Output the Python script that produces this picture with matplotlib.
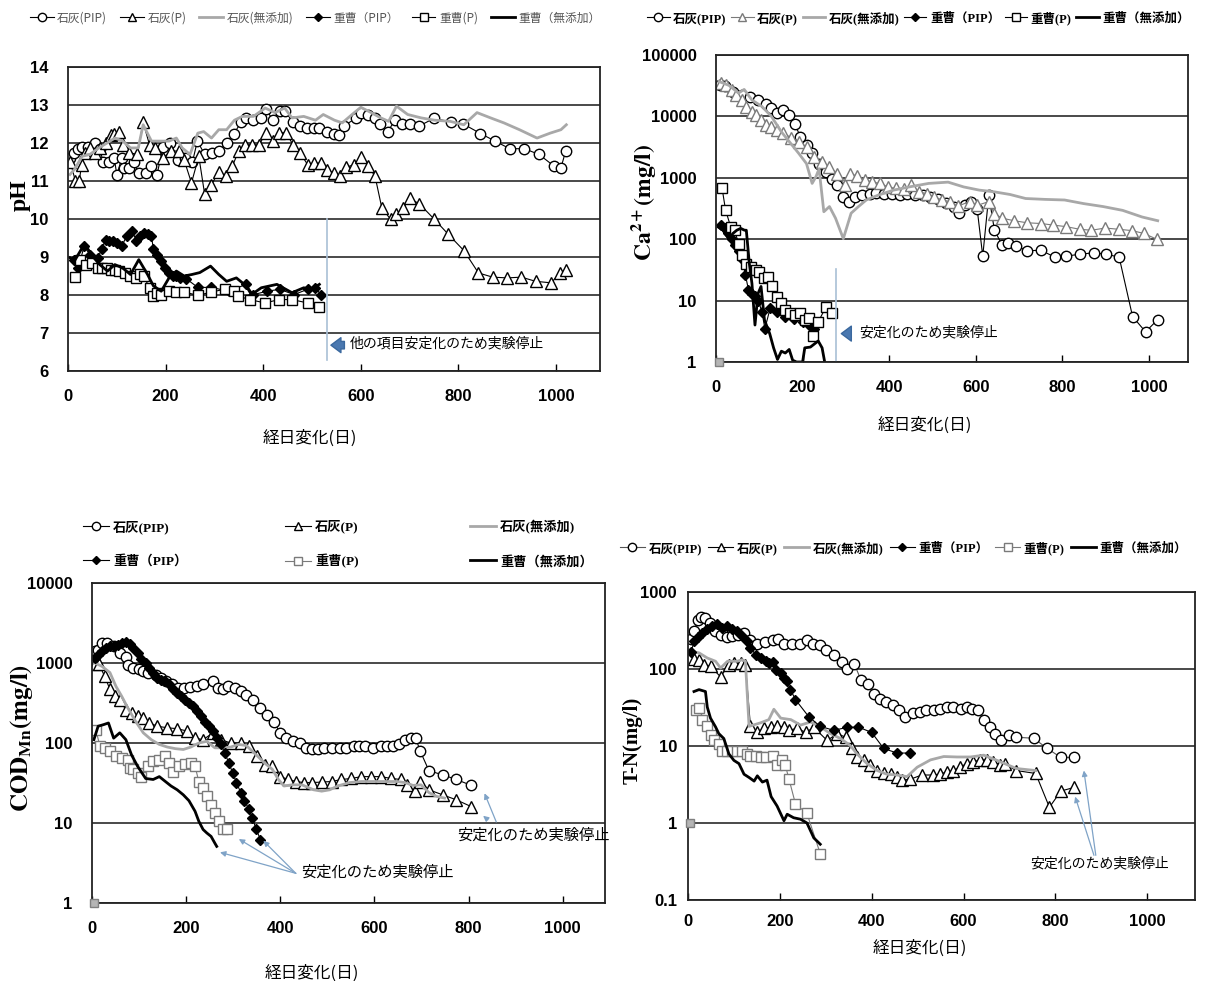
import matplotlib
matplotlib.use('Agg')
import matplotlib.pyplot as plt
from matplotlib.lines import Line2D
from matplotlib.ticker import NullLocator

plt.rcParams['mathtext.fontset'] = 'stix'

JP = ['Noto Sans CJK JP', 'DejaVu Sans']
SERIF_JP = ['Liberation Serif', 'Noto Sans CJK JP']

labels = ['石灰(PIP)', '石灰(P)', '石灰(無添加)', '重曹（PIP）', '重曹(P)', '重曹（無添加）']
x_ticks = [0, 200, 400, 600, 800, 1000]
stop_text = '安定化のため実験停止'

# ---------------- pH ----------------
ph_ticks = [6, 7, 8, 9, 10, 11, 12, 13, 14]
ph_lime_pip_day = [5, 12, 20, 28, 40, 55, 65, 72, 85, 95, 100, 110, 115, 125, 135, 145, 160, 170, 182, 195,
                   210, 225, 240, 255, 265, 280, 295, 310, 325, 340, 355, 365, 380, 395, 405, 420, 435, 445,
                   460, 475, 490, 505, 515, 530, 545, 555, 565, 590, 600, 615, 630, 640, 655, 670, 685, 700,
                   720, 750, 785, 810, 845, 875, 905, 935, 965, 995, 1010, 1020]
ph_lime_pip_val = [11.6, 11.75, 11.85, 11.9, 11.9, 12.0, 11.85, 11.5, 11.5, 11.6, 11.15, 11.6, 11.35, 11.35,
                   11.5, 11.2, 11.2, 11.4, 11.15, 11.9, 12.0, 11.55, 11.6, 11.5, 12.05, 11.7, 11.75, 11.8,
                   12.0, 12.25, 12.55, 12.65, 12.6, 12.65, 12.9, 12.6, 12.85, 12.85, 12.55, 12.45, 12.4,
                   12.4, 12.4, 12.3, 12.25, 12.2, 12.45, 12.65, 12.8, 12.75, 12.65, 12.5, 12.3, 12.6, 12.5,
                   12.5, 12.45, 12.65, 12.55, 12.5, 12.25, 12.05, 11.85, 11.85, 11.7, 11.4, 11.35, 11.8]
ph_lime_p_day = [5, 15, 23, 28, 35, 45, 55, 65, 77, 88, 95, 104, 112, 124, 142, 154, 167, 179, 195, 211, 227,
                 238, 253, 268, 280, 294, 309, 323, 337, 350, 363, 376, 392, 405, 420, 433, 447, 461, 475,
                 491, 505, 518, 531, 545, 558, 570, 586, 601, 615, 629, 643, 661, 672, 687, 700, 720, 750,
                 779, 811, 841, 870, 900, 929, 958, 990, 1008, 1020]
ph_lime_p_val = [11.5, 11.0, 11.0, 11.43, 11.75, 11.87, 11.75, 11.87, 12.0, 12.2, 12.25, 12.3, 11.95, 11.75,
                 11.7, 12.55, 11.95, 11.87, 11.6, 11.8, 11.78, 11.55, 10.95, 11.65, 10.65, 10.9, 11.25,
                 11.13, 11.4, 11.8, 11.95, 11.95, 11.95, 12.27, 12.05, 12.27, 12.27, 11.95, 11.75, 11.43,
                 11.47, 11.47, 11.3, 11.2, 11.13, 11.36, 11.43, 11.62, 11.39, 11.13, 10.29, 9.99, 10.12,
                 10.29, 10.54, 10.4, 10.0, 9.6, 9.17, 8.58, 8.47, 8.45, 8.47, 8.36, 8.32, 8.58, 8.67]
ph_lime_none_day = [4, 13, 29, 45, 63, 80, 96, 112, 128, 144, 154, 171, 191, 207, 222, 234, 250, 266, 278,
                    294, 309, 325, 341, 357, 380, 404, 424, 444, 459, 483, 507, 523, 546, 562, 582, 600,
                    621, 641, 657, 673, 696, 724, 751, 783, 811, 838, 866, 893, 925, 961, 988, 1010, 1021]
ph_lime_none_val = [11.17, 11.3, 11.65, 11.7, 11.87, 12.0, 12.13, 12.05, 11.87, 11.87, 12.48, 12.05, 12.05,
                    12.05, 12.13, 11.87, 11.7, 12.26, 12.3, 12.13, 12.35, 12.35, 12.6, 12.7, 12.7, 12.92,
                    12.8, 12.92, 12.66, 12.7, 12.6, 12.75, 12.6, 12.53, 12.75, 12.94, 12.8, 12.66, 12.57,
                    12.97, 12.75, 12.66, 12.6, 12.57, 12.48, 12.8, 12.66, 12.53, 12.35, 12.13, 12.26,
                    12.35, 12.48]
ph_soda_pip_day = [13, 21, 33, 45, 61, 69, 77, 85, 92, 100, 110, 120, 132, 140, 148, 155, 163, 171, 175,
                   183, 191, 199, 207, 215, 222, 230, 242, 266, 294, 329, 365, 380, 408, 434, 463, 491,
                   507, 518]
ph_soda_pip_val = [8.93, 8.71, 9.28, 9.06, 8.98, 9.2, 9.46, 9.42, 9.43, 9.37, 9.28, 9.55, 9.68, 9.42, 9.55,
                   9.64, 9.6, 9.55, 9.2, 9.06, 8.89, 8.71, 8.58, 8.51, 8.49, 8.45, 8.43, 8.2, 8.2, 8.1,
                   8.28, 8.01, 8.1, 8.15, 8.01, 8.15, 8.19, 8.01]
ph_soda_p_day = [15, 25, 37, 49, 61, 69, 79, 88, 96, 104, 116, 128, 140, 148, 155, 167, 175, 183, 191, 207,
                 222, 238, 266, 294, 321, 341, 349, 372, 404, 432, 459, 491, 515]
ph_soda_p_val = [8.47, 8.93, 8.8, 8.85, 8.71, 8.71, 8.71, 8.67, 8.67, 8.63, 8.58, 8.5, 8.45, 8.54, 8.5,
                 8.19, 7.97, 8.06, 7.99, 8.1, 8.08, 8.08, 7.99, 8.08, 8.15, 8.1, 7.97, 7.88, 7.79, 7.88,
                 7.88, 7.79, 7.68]
ph_soda_none_day = [4, 13, 29, 37, 53, 65, 81, 96, 112, 128, 145, 163, 175, 191, 207, 222, 238, 254, 270,
                    292, 309, 325, 345, 365, 376, 396, 428, 459, 483, 499, 515]
ph_soda_none_val = [8.98, 8.89, 9.24, 9.28, 8.98, 8.8, 8.63, 8.8, 8.71, 8.54, 8.93, 8.54, 8.24, 8.1, 8.45,
                    8.63, 8.5, 8.54, 8.59, 8.76, 8.54, 8.36, 8.45, 8.24, 8.01, 8.19, 8.28, 8.06, 8.19,
                    8.15, 8.28]

# ---------------- Ca2+ ----------------
ca_ticks = [1, 10, 100, 1000, 10000, 100000]
ca_lime_pip_day = [9, 21, 39, 61, 79, 97, 115, 128, 142, 155, 169, 182, 195, 209, 222, 238, 254, 267, 280,
                   294, 307, 320, 338, 356, 370, 388, 406, 424, 441, 460, 478, 495, 513, 531, 549, 561,
                   576, 590, 603, 616, 630, 643, 661, 675, 693, 719, 751, 782, 809, 840, 872, 901, 931,
                   962, 992, 1020]
ca_lime_pip_val = [32000, 31000, 25000, 22000, 21000, 18500, 16000, 13500, 11200, 12600, 10400, 7400, 4700,
                   3400, 2500, 1700, 1250, 950, 760, 490, 410, 490, 520, 550, 570, 550, 535, 520, 540, 520,
                   520, 490, 460, 390, 340, 270, 355, 400, 315, 53, 520, 140, 80, 87, 77, 65, 66, 51, 53,
                   57, 60, 57, 51, 5.5, 3.1, 4.9]
ca_lime_p_day = [12, 23, 37, 47, 59, 70, 82, 92, 104, 116, 128, 142, 155, 173, 191, 209, 227, 245, 262, 280,
                 298, 310, 325, 343, 361, 379, 397, 415, 433, 451, 469, 487, 504, 522, 540, 558, 586, 603,
                 630, 643, 661, 688, 719, 751, 778, 809, 840, 867, 899, 930, 961, 988, 1018]
ca_lime_p_val = [35000, 32000, 27000, 22000, 18500, 14400, 12000, 10400, 8700, 7200, 6600, 6000, 5400, 4500,
                 3900, 3200, 2200, 1800, 1500, 1170, 760, 1170, 1070, 920, 850, 810, 710, 670, 650, 760,
                 590, 550, 490, 435, 410, 345, 410, 355, 410, 260, 220, 200, 185, 180, 170, 160, 145, 140,
                 152, 145, 138, 124, 100]
ca_lime_none_day = [7, 30, 52, 65, 83, 106, 128, 151, 173, 191, 209, 222, 231, 238, 249, 262, 276, 294, 312,
                    329, 347, 374, 410, 446, 491, 536, 572, 608, 643, 679, 715, 760, 805, 849, 894, 939,
                    984, 1020]
ca_lime_none_val = [37000, 32000, 24000, 27500, 18500, 14500, 10000, 5600, 3600, 2500, 1700, 810, 1050, 1400,
                    280, 340, 220, 102, 265, 340, 435, 520, 630, 710, 810, 850, 710, 630, 590, 535, 460,
                    445, 435, 380, 340, 295, 230, 200]
ca_soda_pip_day = [12, 20, 28, 36, 44, 52, 60, 68, 75, 82, 90, 98, 106, 113, 125, 140, 160, 180, 200, 215,
                   227]
ca_soda_pip_val = [170, 150, 125, 100, 80, 65, 48, 26, 15, 13, 12, 10, 6.5, 3.5, 7.5, 6.5, 5.5, 5.0, 4.5,
                   4.0, 3.5]
ca_soda_p_day = [14, 22, 34, 43, 52, 61, 70, 81, 92, 99, 111, 121, 130, 140, 150, 160, 170, 182, 195, 205,
                 215, 224, 236, 254, 267]
ca_soda_p_val = [680, 300, 158, 140, 85, 55, 40, 35, 31, 29, 23, 24, 17, 11.5, 9, 7, 6.2, 5.8, 6.2, 4.8,
                 5.2, 2.7, 4.5, 7.9, 6.2]
ca_soda_none_day = [5, 16, 30, 39, 48, 57, 66, 70, 77, 83, 90, 97, 104, 112, 124, 133, 142, 151, 160, 169,
                    177, 186, 200, 205, 218, 236, 245, 251]
ca_soda_none_val = [158, 140, 100, 124, 140, 150, 140, 140, 40, 19, 4, 13, 17, 4.8, 2.9, 1.7, 1.1, 1.5, 1.4,
                    1.6, 1.07, 1.0, 1.0, 1.7, 1.75, 2.2, 1.7, 1.0]

# ---------------- COD ----------------
cod_ticks = [1, 10, 100, 1000, 10000]
cod_lime_pip_day = [6, 13, 21, 32, 46, 59, 72, 76, 88, 99, 109, 120, 135, 147, 158, 170, 183, 195, 208, 223,
                    236, 257, 268, 278, 290, 303, 316, 328, 343, 358, 372, 386, 400, 412, 427, 442, 455,
                    467, 480, 492, 509, 526, 539, 556, 568, 581, 598, 614, 627, 640, 652, 665, 678, 688,
                    697, 716, 745, 774, 806]
cod_lime_pip_val = [1400, 1470, 1780, 1780, 1620, 1330, 1200, 950, 870, 830, 800, 750, 710, 650, 590, 540,
                    490, 490, 500, 515, 550, 590, 490, 470, 510, 490, 445, 400, 340, 275, 225, 185, 134,
                    115, 107, 100, 87, 83, 85, 87, 87, 87, 87, 91, 93, 91, 87, 93, 93, 93, 96, 110, 115,
                    115, 80, 45, 40, 35, 29.5]
cod_lime_p_day = [6, 15, 27, 38, 49, 59, 72, 84, 97, 109, 122, 139, 160, 181, 202, 219, 236, 257, 274, 295,
                  316, 333, 350, 367, 383, 400, 417, 434, 450, 467, 488, 509, 530, 551, 572, 593, 614,
                  636, 657, 669, 686, 697, 716, 745, 774, 806]
cod_lime_p_val = [960, 960, 680, 470, 385, 345, 260, 235, 215, 205, 178, 162, 155, 151, 141, 115, 110, 134,
                  110, 100, 100, 91, 68, 53, 51, 38, 35, 33, 32, 32, 32.5, 33, 35, 36, 38, 38, 38, 36, 35,
                  30, 25, 33, 26, 22.5, 19.5, 16]
cod_lime_none_day = [6, 21, 38, 51, 63, 76, 93, 109, 126, 143, 160, 177, 194, 210, 227, 244, 261, 278, 295,
                     311, 328, 349, 367, 383, 396, 408, 425, 446, 471, 488, 505, 522, 547, 572, 598, 623,
                     648, 665, 682, 699, 716, 732, 749]
cod_lime_none_val = [1000, 910, 760, 510, 385, 275, 185, 134, 110, 96, 89, 85, 83, 89, 100, 105, 87, 87, 89,
                     96, 93, 71, 56, 47, 35, 29, 30, 30, 26, 25, 26, 29, 32, 33, 33, 33, 33, 32, 29.5, 30,
                     24, 21.5, 20.5]
cod_soda_pip_day = [6, 13, 21, 29, 38, 46, 55, 63, 72, 80, 88, 97, 105, 114, 122, 130, 139, 147, 156, 164,
                    173, 181, 189, 198, 206, 215, 223, 231, 240, 248, 257, 265, 274, 282, 291, 299, 307,
                    316, 324, 333, 341, 349, 358]
cod_soda_pip_val = [1150, 1260, 1400, 1550, 1620, 1620, 1700, 1780, 1820, 1740, 1550, 1340, 1130, 1000,
                    870, 750, 650, 620, 590, 540, 470, 425, 385, 345, 315, 290, 250, 215, 185, 162, 141,
                    115, 96, 75, 56, 42, 32, 24, 19, 15, 11.5, 8.3, 6.2]
cod_soda_p_day = [8, 17, 27, 38, 51, 63, 76, 80, 88, 97, 105, 118, 130, 143, 156, 164, 173, 185, 198, 210,
                  219, 227, 236, 244, 253, 261, 269, 278, 286]
cod_soda_p_val = [147, 91, 87, 80, 68, 65, 62, 49, 47, 42, 38, 51, 59, 62, 68, 56, 44, 51, 54, 56, 51, 33,
                  27.5, 21.5, 17, 13.4, 10.5, 8.3, 8.3]
cod_soda_none_day = [4, 13, 25, 35, 46, 59, 72, 84, 97, 114, 130, 143, 156, 168, 181, 194, 206, 219, 227,
                     236, 244, 253, 261, 265]
cod_soda_none_val = [110, 162, 170, 178, 115, 134, 110, 71, 51, 36, 35, 38, 33, 29, 26, 22.5, 19, 14, 10.5,
                     8.3, 7.5, 6.8, 5.6, 5.1]

# ---------------- T-N ----------------
tn_ticks = [0.1, 1, 10, 100, 1000]
tn_lime_pip_day = [6, 13, 21, 29, 38, 48, 59, 71, 84, 96, 109, 121, 134, 150, 167, 184, 197, 209, 226, 243,
                   259, 272, 287, 301, 318, 335, 347, 362, 377, 391, 404, 418, 431, 446, 460, 473, 490,
                   505, 519, 536, 548, 565, 577, 594, 607, 619, 632, 644, 657, 669, 682, 699, 715, 753,
                   782, 812, 841]
tn_lime_pip_val = [245, 315, 430, 475, 465, 390, 315, 273, 262, 265, 273, 290, 235, 213, 224, 235, 245, 213,
                   213, 213, 235, 213, 204, 174, 151, 123, 100, 117, 71, 64, 48, 41, 37, 34, 29, 24, 26.5,
                   28, 29, 29.5, 30, 32, 32, 30, 32, 30, 29, 21.5, 17.7, 14.5, 12, 14, 13, 12.6, 9.3, 7.1,
                   7.1]
tn_lime_p_day = [12, 24, 35, 49, 71, 89, 100, 115, 125, 136, 151, 165, 180, 194, 209, 220, 238, 256, 274,
                 303, 325, 343, 357, 368, 383, 397, 412, 426, 441, 455, 466, 484, 509, 534, 549, 563, 578,
                 592, 607, 621, 636, 650, 665, 679, 690, 715, 757, 787, 812, 841]
tn_lime_p_val = [135, 129, 114, 108, 79, 114, 120, 120, 114, 18, 15, 17, 17.4, 18, 17.7, 16, 17, 15, 17.4,
                 11.8, 14.5, 13, 9.3, 7.3, 6.5, 5.6, 4.7, 4.4, 4.3, 3.9, 3.6, 3.7, 4.2, 4.2, 4.3, 4.6,
                 4.8, 5.3, 5.9, 6.2, 6.6, 6.6, 6.2, 5.7, 5.8, 4.8, 4.4, 1.6, 2.6, 2.9]
tn_lime_none_day = [6, 24, 42, 60, 71, 86, 107, 118, 125, 133, 158, 176, 187, 202, 224, 245, 267, 288, 310,
                    332, 353, 368, 390, 412, 433, 455, 477, 499, 528, 557, 586, 615, 644, 673, 715, 757]
tn_lime_none_val = [170, 162, 139, 126, 103, 126, 126, 132, 126, 18, 20, 22, 30, 23, 22, 18.7, 20.5, 17.8,
                    14.5, 12.5, 10.2, 7.9, 5.9, 4.8, 4.3, 4.2, 4.0, 5.3, 6.6, 7.3, 7.2, 7.2, 7.6, 6.5,
                    5.1, 4.8]
tn_soda_pip_day = [6, 14, 22, 31, 42, 53, 64, 75, 86, 96, 107, 118, 129, 136, 147, 158, 169, 176, 184, 191,
                   202, 209, 216, 223, 234, 263, 288, 317, 346, 371, 400, 426, 455, 484]
tn_soda_pip_val = [165, 230, 260, 290, 330, 360, 380, 345, 360, 330, 310, 270, 230, 190, 154, 139, 126, 120,
                   122, 98, 89, 76, 69, 54, 40, 24, 18, 16, 17.4, 17.6, 15, 9.3, 8.1, 8.1]
tn_soda_p_day = [17, 24, 31, 42, 49, 56, 67, 75, 85, 96, 107, 118, 129, 136, 147, 158, 169, 184, 194, 205,
                 212, 220, 234, 259, 288]
tn_soda_p_val = [29, 31, 22, 18, 13.8, 11.8, 10.7, 8.7, 8.7, 8.5, 8.5, 8.5, 7.9, 7.5, 7.5, 7.2, 7.2, 7.5,
                 5.6, 6.5, 5.6, 3.7, 1.77, 1.33, 0.4]
tn_soda_none_day = [13, 24, 38, 42, 49, 60, 67, 78, 89, 100, 111, 122, 133, 144, 151, 162, 172, 181, 194,
                    209, 216, 230, 245, 259, 274, 288]
tn_soda_none_val = [51, 54, 51, 32, 23, 17.7, 14.5, 12.5, 7.9, 6.5, 5.9, 4.3, 3.9, 3.5, 4.1, 3.4, 3.6, 2.2,
                    1.66, 1.07, 1.3, 1.17, 1.12, 1.0, 0.64, 0.53]

GRAY = '#a8a8a8'
MGRAY = '#7a7a7a'


def styles(tri_col='black', sq_col='black', circ_line='black'):
    return [
        dict(marker='o', ms=7.5, mfc='white', mec='black', mew=1.0, color=circ_line, lw=0.8),
        dict(marker='^', ms=8, mfc='white', mec=tri_col, mew=1.0, color=tri_col, lw=0.8),
        dict(color=GRAY, lw=2.0),
        dict(marker='D', ms=4.8, mfc='black', mec='black', color='black', lw=0.8),
        dict(marker='s', ms=7.5, mfc='white', mec=sq_col, mew=1.0, color=sq_col, lw=0.8),
        dict(color='black', lw=2.0),
    ]


def setup(ax, ticks, ylim, log, xmax=1090):
    ax.set_xlim(0, xmax)
    ax.set_ylim(*ylim)
    if log:
        ax.set_yscale('log')
        ax.yaxis.set_minor_locator(NullLocator())
    ax.set_yticks(ticks)
    ax.set_yticklabels([('%g' % t) for t in ticks], fontfamily='Liberation Sans',
                       fontweight='bold', fontsize=12)
    ax.set_xticks(x_ticks)
    ax.set_xticklabels([str(t) for t in x_ticks], fontfamily='Liberation Sans',
                       fontweight='bold', fontsize=12)
    ax.tick_params(axis='x', direction='in', length=5, width=1, pad=13)
    ax.tick_params(axis='y', length=0, pad=14)
    ax.grid(axis='y', color='#3a3a3a', lw=1.3)
    ax.set_axisbelow(True)
    for s in ax.spines.values():
        s.set_linewidth(1.3)
        s.set_color('#222222')


def draw(ax, series, st):
    for (d, v), s in zip(series, st):
        ax.plot(d, v, **s)


def legend(handles_st, x, y, ncol, prop, color='black', **kw):
    hs = [Line2D([], [], **s) for s in handles_st]
    for h in hs:
        if h.get_marker() not in (None, 'None', ''):
            h.set_markersize(h.get_markersize() * 0.8)
    lg = fig.legend(hs, kw.pop('labs', labels), loc='center left', bbox_to_anchor=(x / 1205, 1 - y / 981),
                    ncol=ncol, frameon=False, prop=prop, handlelength=kw.pop('hl', 2.0),
                    handletextpad=0.3, columnspacing=kw.pop('cs', 0.6), borderpad=0, borderaxespad=0, **kw)
    for t in lg.get_texts():
        t.set_color(color)
    return lg


fig = plt.figure(figsize=(12.05, 9.81), dpi=100)


def add_ax(l, r, t, b):
    return fig.add_axes([l / 1205, 1 - b / 981, (r - l) / 1205, (b - t) / 981])


# pH panel
ax1 = add_ax(68, 600, 67, 371)
setup(ax1, ph_ticks, (6, 14), False)
st1 = styles()
draw(ax1, [(ph_lime_pip_day, ph_lime_pip_val), (ph_lime_p_day, ph_lime_p_val),
           (ph_lime_none_day, ph_lime_none_val), (ph_soda_pip_day, ph_soda_pip_val),
           (ph_soda_p_day, ph_soda_p_val), (ph_soda_none_day, ph_soda_none_val)], st1)
ax1.plot([530, 530], [6.3, 10], color='#a9c0d6', lw=1.2)
ax1.annotate('', xy=(533, 6.68), xytext=(572, 6.68),
             arrowprops=dict(arrowstyle='simple,head_width=0.9,head_length=0.6,tail_width=0.45',
                             fc='#4a78b0', ec='#3a689e', mutation_scale=12))
ax1.text(578, 6.72, '他の項目安定化のため実験停止', family=JP, fontsize=10, va='center', ha='left')
fig.text(20 / 1205, 1 - 195 / 981, 'pH', rotation=90, family='Liberation Serif', fontweight='bold',
         fontsize=17, ha='center', va='center')
fig.text(310 / 1205, 1 - 438 / 981, '経日変化(日)', family=JP, fontsize=12, ha='center', va='center')
legend(st1, 30, 18, 6, dict(family=JP, size=8.5), color='#555555', cs=1.1)

# Ca panel
ax2 = add_ax(716, 1188, 55, 362)
setup(ax2, ca_ticks, (1, 100000), True)
st2 = styles(tri_col=MGRAY)
draw(ax2, [(ca_lime_pip_day, ca_lime_pip_val), (ca_lime_p_day, ca_lime_p_val),
           (ca_lime_none_day, ca_lime_none_val), (ca_soda_pip_day, ca_soda_pip_val),
           (ca_soda_p_day, ca_soda_p_val), (ca_soda_none_day, ca_soda_none_val)], st2)
ax2.plot([7], [1], 's', ms=6, mfc='#b5b5b5', mec='#808080', clip_on=False, zorder=5)
ax2.plot([277, 277], [1, 33], color='#a9c0d6', lw=1.2)
ax2.annotate('', xy=(283, 2.9), xytext=(318, 2.9),
             arrowprops=dict(arrowstyle='simple,head_width=0.9,head_length=0.6,tail_width=0.45',
                             fc='#4a78b0', ec='#3a689e', mutation_scale=12))
ax2.text(330, 3.0, stop_text, family=JP, fontsize=10, va='center', ha='left')
fig.text(644 / 1205, 1 - 202 / 981, r'$\mathbf{Ca^{2+}(mg/l)}$', rotation=90, fontsize=17,
         ha='center', va='center')
fig.text(925 / 1205, 1 - 425 / 981, '経日変化(日)', family=JP, fontsize=12, ha='center', va='center')
legend(st2, 647, 18, 6, dict(family=SERIF_JP, weight='bold', size=9), cs=0.35, hl=1.8)

# COD panel
ax3 = add_ax(92, 605, 583, 903)
setup(ax3, cod_ticks, (1, 10000), True)
st3 = styles(sq_col=MGRAY)
draw(ax3, [(cod_lime_pip_day, cod_lime_pip_val), (cod_lime_p_day, cod_lime_p_val),
           (cod_lime_none_day, cod_lime_none_val), (cod_soda_pip_day, cod_soda_pip_val),
           (cod_soda_p_day, cod_soda_p_val), (cod_soda_none_day, cod_soda_none_val)], st3)
ax3.plot([5], [1], 's', ms=6, mfc='#b5b5b5', mec='#808080', clip_on=False, zorder=5)
arw = dict(arrowstyle='-|>', color='#7fa3c7', lw=0.9, mutation_scale=8, shrinkA=0, shrinkB=0)
for tx, ty in [(272, 4.3), (312, 6.3), (364, 6.0)]:
    ax3.annotate('', xy=(tx, ty), xytext=(433, 2.35), arrowprops=arw)
ax3.text(445, 2.45, stop_text, family=JP, fontsize=11, va='center', ha='left')
ax3.annotate('', xy=(834, 23.5), xytext=(859, 10.3), arrowprops=arw, annotation_clip=False)
ax3.annotate('', xy=(831, 12.3), xytext=(841, 11.0), arrowprops=arw, annotation_clip=False)
ax3.text(775, 7.1, stop_text, family=JP, fontsize=11, va='center', ha='left', clip_on=False)
fig.text(22 / 1205, 1 - 738 / 981, r'$\mathbf{COD_{Mn}(mg/l)}$', rotation=90, fontsize=18,
         ha='center', va='center')
fig.text(312 / 1205, 1 - 973 / 981, '経日変化(日)', family=JP, fontsize=12, ha='center', va='center')
cod_prop = dict(family=SERIF_JP, weight='bold', size=9.5)
for col, xpos in [(0, 83), (1, 285), (2, 470)]:
    legend([st3[col], st3[col + 3]], xpos, 544, 1, cod_prop, labs=[labels[col], labels[col + 3]],
           labelspacing=1.6)

# T-N panel
ax4 = add_ax(688, 1195, 592, 900)
setup(ax4, tn_ticks, (0.1, 1000), True, xmax=1104)
ax4.tick_params(axis='y', pad=8)
ax4.tick_params(axis='x', pad=10)
st4 = styles(sq_col=MGRAY, circ_line='#555555')
draw(ax4, [(tn_lime_pip_day, tn_lime_pip_val), (tn_lime_p_day, tn_lime_p_val),
           (tn_lime_none_day, tn_lime_none_val), (tn_soda_pip_day, tn_soda_pip_val),
           (tn_soda_p_day, tn_soda_p_val), (tn_soda_none_day, tn_soda_none_val)], st4)
ax4.plot([5], [1], 's', ms=6, mfc='#b5b5b5', mec='#808080', clip_on=False, zorder=5)
ax4.annotate('', xy=(862, 4.8), xytext=(888, 0.38), arrowprops=arw)
ax4.annotate('', xy=(843, 2.2), xytext=(884, 0.38), arrowprops=arw)
ax4.text(745, 0.3, stop_text, family=JP, fontsize=10, va='center', ha='left')
fig.text(633 / 1205, 1 - 740 / 981, 'T-N(mg/l)', rotation=90, family='Liberation Serif',
         fontweight='bold', fontsize=15, ha='center', va='center')
fig.text(920 / 1205, 1 - 948 / 981, '経日変化(日)', family=JP, fontsize=12, ha='center', va='center')
legend(st4, 620, 548, 6, dict(family=SERIF_JP, weight='bold', size=9), cs=0.5)

plt.savefig('out.png', dpi=100)
